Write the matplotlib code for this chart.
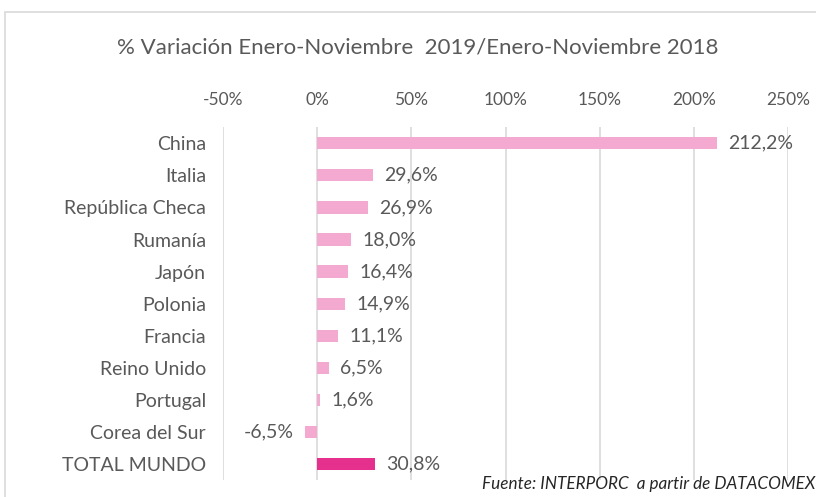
import matplotlib.pyplot as plt
from matplotlib.patches import Rectangle

paises = ['China', 'Italia', 'República Checa', 'Rumanía', 'Japón', 'Polonia',
          'Francia', 'Reino Unido', 'Portugal', 'Corea del Sur', 'TOTAL MUNDO']
variacion = [212.2, 29.6, 26.9, 18.0, 16.4, 14.9, 11.1, 6.5, 1.6, -6.5, 30.8]
ticks = [-50, 0, 50, 100, 150, 200, 250]

rosa = '#F4A9D1'
fucsia = '#E6308E'
gris = '#595959'

plt.rcParams['font.family'] = ['Lato', 'DejaVu Sans']

fig = plt.figure(figsize=(8.16, 4.97), dpi=100)
ax = fig.add_axes([0.273, 0.034, 0.693, 0.71])

# marco exterior gris claro
fig.patches.append(Rectangle((5 / 816, -0.05), 1.1, 1 - 12 / 497 + 0.05,
                             transform=fig.transFigure, fill=False,
                             edgecolor='#D9D9D9', linewidth=1.2, clip_on=False))

y = list(range(len(paises)))
colores = [rosa] * (len(paises) - 1) + [fucsia]
ax.barh(y, variacion, height=0.38, color=colores, zorder=3)

for yi, v in zip(y, variacion):
    txt = f'{v:.1f}%'.replace('.', ',')
    if v >= 0:
        ax.annotate(txt, (v, yi), xytext=(8, 0), textcoords='offset points',
                    ha='left', va='center', fontsize=14, color=gris)
    else:
        ax.annotate(txt, (v, yi), xytext=(-8, 0), textcoords='offset points',
                    ha='right', va='center', fontsize=14, color=gris)

ax.set_xlim(-50, 250)
ax.set_ylim(len(paises) - 0.5, -0.5)
ax.set_xticks(ticks)
ax.set_xticklabels([f'{t}%' for t in ticks])
ax.set_yticks(y)
ax.set_yticklabels(paises)
ax.xaxis.tick_top()
ax.tick_params(axis='x', length=0, pad=14, labelsize=12.5, labelcolor=gris)
ax.tick_params(axis='y', length=0, pad=12, labelsize=14, labelcolor=gris)
ax.grid(axis='x', color='#D9D9D9', linewidth=1.2, zorder=0)
for s in ax.spines.values():
    s.set_visible(False)

fig.text(418 / 816, 1 - 47 / 497, '% Variación Enero-Noviembre  2019/Enero-Noviembre 2018',
         ha='center', va='center', fontsize=16, color=gris)
fig.text(815 / 816, 1 - 484 / 497, 'Fuente: INTERPORC  a partir de DATACOMEX',
         ha='right', va='center', fontsize=12.3, style='italic', color='#262626')

fig.savefig('out.png', dpi=100)
